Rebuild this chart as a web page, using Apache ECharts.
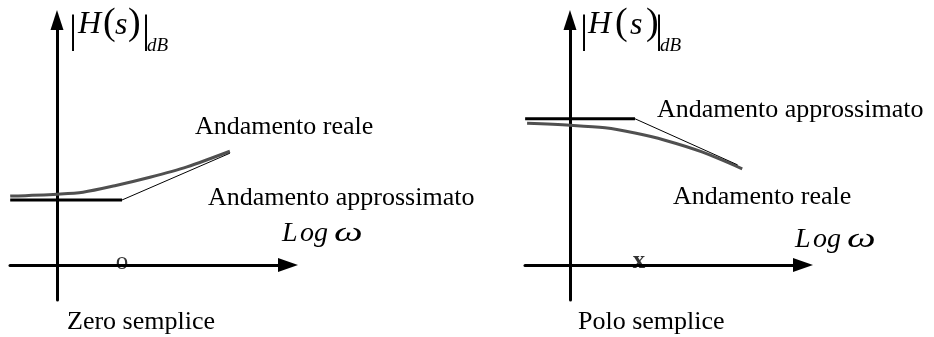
<!DOCTYPE html>
<html>
<head>
<meta charset="utf-8">
<script src="https://cdn.jsdelivr.net/npm/echarts@6/dist/echarts.min.js"></script>
<style>
html, body { margin: 0; padding: 0; background: #fff; }
#main { width: 934px; height: 337px; }
</style>
</head>
<body>
<div id="main"></div>
<script>
// ---- dati: zero semplice (sinistra)
var zeroFlat = [[-0.72, 1.0], [1.0, 1.0]];
var zeroSlope = [[1.0, 1.0], [2.66, 1.72]];
var zeroReal = [[-0.72, 1.06], [0, 1.09], [0.4, 1.12], [0.89, 1.22], [1.43, 1.35], [2.0, 1.51], [2.66, 1.75]];
var zeroMark = [[1.0, 0]];

// ---- dati: polo semplice (destra)
var poloFlat = [[-0.69, 2.25], [1.0, 2.25]];
var poloSlope = [[1.0, 2.25], [2.58, 1.54]];
var poloReal = [[-0.66, 2.18], [0, 2.15], [0.54, 2.11], [1.0, 2.03], [1.46, 1.92], [2.03, 1.74], [2.65, 1.48]];
var poloMark = [[1.06, 0]];

var serif = "'Liberation Serif', 'DejaVu Serif', serif";

var chart = echarts.init(document.getElementById("main"));

function axisX(idx, min, max) {
    return {
        type: 'value', gridIndex: idx, min: min, max: max,
        axisLine: { show: true, onZero: true, symbol: ['none', 'triangle'], symbolSize: [14, 20],
            lineStyle: { color: '#000', width: 3 } },
        axisTick: { show: false }, axisLabel: { show: false }, splitLine: { show: false }
    };
}
function axisY(idx) {
    return {
        type: 'value', gridIndex: idx, min: -0.538, max: 3.769,
        axisLine: { show: true, onZero: true, symbol: ['none', 'triangle'], symbolSize: [13, 20],
            lineStyle: { color: '#000', width: 3 } },
        axisTick: { show: false }, axisLabel: { show: false }, splitLine: { show: false }
    };
}
function lineSerie(idx, data, color, width, smooth) {
    return {
        type: 'line', xAxisIndex: idx, yAxisIndex: idx, data: data,
        symbol: 'none', smooth: smooth, silent: true, animation: false,
        lineStyle: { color: color, width: width }
    };
}
function markSerie(idx, data, txt, off, weight) {
    return {
        type: 'scatter', xAxisIndex: idx, yAxisIndex: idx, data: data,
        symbolSize: 1, itemStyle: { color: 'rgba(0,0,0,0)' }, animation: false, z: 5,
        label: { show: true, position: 'inside', formatter: txt, offset: off,
            fontFamily: serif, fontSize: 25, fontWeight: weight, color: '#000' }
    };
}
// testo semplice, y = centro della riga
function txt(x, y, s, size, italic, sx) {
    return {
        type: 'text', x: x, y: y, silent: true, scaleX: sx || 1,
        style: { text: s, fill: '#000', font: (italic ? 'italic ' : '') + size + 'px ' + serif,
            textAlign: 'left', textVerticalAlign: 'middle' }
    };
}
// |H(s)|dB fatto a pezzi
function hLabel(p) {
    return [
        txt(p[0], 31, '|', 40, false),
        txt(p[1], 25, 'H', 32, true),
        txt(p[2], 24.5, '(', 38, false),
        txt(p[3], 26, 's', 32, true),
        txt(p[4], 24.5, ')', 38, false),
        txt(p[5], 31, '|', 40, false),
        txt(p[6], 46, 'dB', 19, true)
    ];
}
function logLabel(x, y) {
    return [
        txt(x, y, 'L', 28, true),
        txt(x + 18, y, 'o', 28, true),
        txt(x + 32, y, 'g', 28, true),
        txt(x + 52, y, 'ω', 28, true, 1.45)
    ];
}

var option = {
    backgroundColor: '#fff',
    animation: false,
    grid: [
        { left: 10, top: 20, width: 278, height: 280 },
        { left: 525, top: 20, width: 278, height: 280 }
    ],
    xAxis: [axisX(0, -0.723, 3.554), axisX(1, -0.692, 3.585)],
    yAxis: [axisY(0), axisY(1)],
    series: [
        lineSerie(0, zeroReal, '#505050', 3, 0.3),
        lineSerie(0, zeroFlat, '#000', 3, false),
        lineSerie(0, zeroSlope, '#000', 1, false),
        markSerie(0, zeroMark, 'o', [0, -3], 'normal'),
        lineSerie(1, poloReal, '#505050', 3, 0.3),
        lineSerie(1, poloFlat, '#000', 3, false),
        lineSerie(1, poloSlope, '#000', 1, false),
        markSerie(1, poloMark, 'x', [0, -3], 'bold')
    ],
    graphic: [].concat(
        hLabel([69, 78, 103, 115, 128, 142, 147]),
        hLabel([580, 588, 615, 630, 646, 655, 660]),
        logLabel(282, 233.5),
        logLabel(795, 239.5),
        [
            txt(195, 127, 'Andamento reale', 26, false),
            txt(208, 198, 'Andamento approssimato', 26, false),
            txt(67, 322, 'Zero semplice', 26, false),
            txt(657, 110, 'Andamento approssimato', 26, false),
            txt(673, 197, 'Andamento reale', 26, false),
            txt(578, 322, 'Polo semplice', 26, false)
        ]
    )
};
chart.setOption(option);
</script>
</body>
</html>
